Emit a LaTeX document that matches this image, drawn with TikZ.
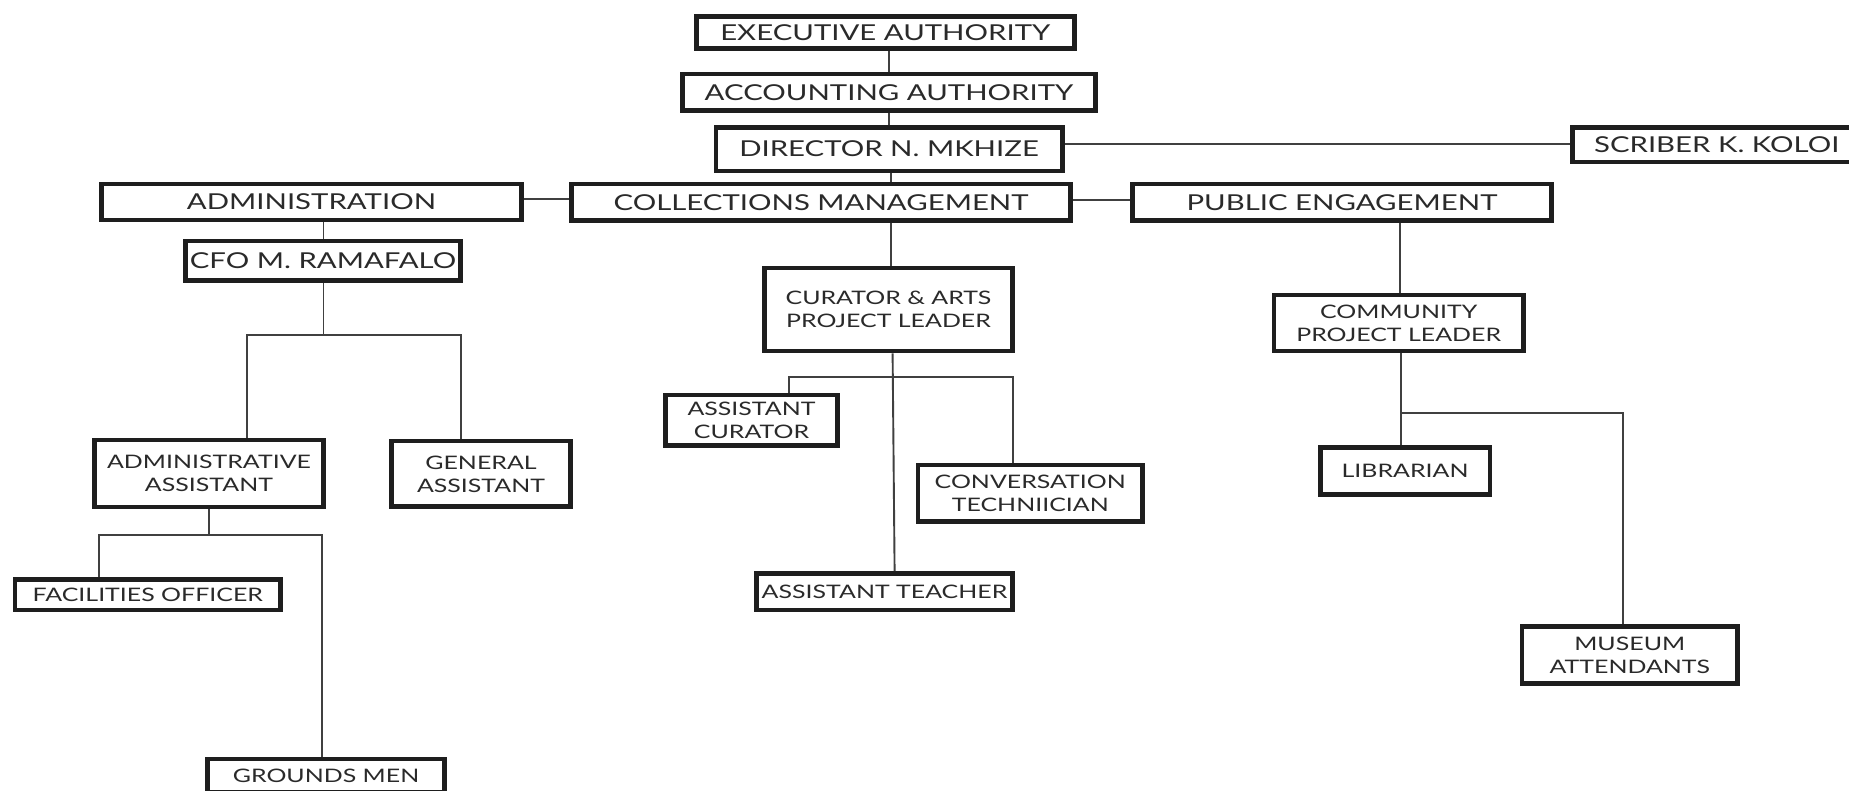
\documentclass[tikz,border=0pt]{standalone}
\usepackage{fontspec}
\setmainfont{Lato}[FakeStretch=1.34]
\definecolor{ink}{HTML}{1E1E1E}
\definecolor{wire}{HTML}{404040}
\definecolor{txt}{HTML}{2A2A2A}
\newcommand\bigtxt{\fontsize{21.9}{26}\selectfont}
\newcommand\smalltxt{\fontsize{18.6}{23}\selectfont}
% box given by its outer corners (x1,y1) and (x2,y2), y measured downward
\newcommand\orgbox[7][big]{%
  \node[orgbox,#1,minimum width={#5-#3-4.6},minimum height={#6-#4-4.6}]
    (#2) at ({(#3+#5)/2},{(#4+#6)/2}) {#7};}
\tikzset{
  orgbox/.style={draw=ink,line width=4.6pt,fill=white,inner sep=0pt,
    align=center,text=txt},
  big/.style={font=\bigtxt},
  small/.style={font=\smalltxt},
  wire/.style={draw=wire,line width=1.9pt}
}
\begin{document}
\begin{tikzpicture}[x=1pt,y=-1pt]
\fill[white] (0,0) rectangle (1849,790);
\useasboundingbox (0,0) rectangle (1849,790);

% top of the hierarchy
\orgbox{exec}{694}{14}{1076.5}{51}{EXECUTIVE AUTHORITY}
\orgbox{acct}{680}{71.7}{1098}{112.7}{ACCOUNTING AUTHORITY}
\orgbox{dir}{713.5}{125}{1064.6}{173.3}{DIRECTOR N. MKHIZE}
\orgbox{scribe}{1570.4}{125}{1863}{164.3}{SCRIBER K. KOLOI}

% departments
\orgbox{admin}{99}{181.7}{524}{222.3}{ADMINISTRATION}
\orgbox{coll}{569}{181.7}{1073}{222.7}{COLLECTIONS MANAGEMENT}
\orgbox{public}{1130}{181.7}{1554}{222.7}{PUBLIC ENGAGEMENT}

% administration
\orgbox{cfo}{183}{238.7}{463}{282.7}{CFO M. RAMAFALO}
\orgbox[small]{adasst}{92}{437.7}{326}{509.3}{ADMINISTRATIVE\\ASSISTANT}
\orgbox[small]{genasst}{389}{438.7}{573}{509}{GENERAL\\ASSISTANT}
\orgbox[small]{facil}{12.7}{577.3}{283}{612.3}{FACILITIES OFFICER}
\orgbox[small]{grounds}{205}{756.7}{447}{795}{GROUNDS MEN}

% collections
\orgbox[small]{curator}{762}{265.7}{1015}{353.3}{CURATOR \& ARTS\\PROJECT LEADER}
\orgbox[small]{asstcur}{663}{392.7}{840}{447.7}{ASSISTANT\\CURATOR}
\orgbox[small]{cons}{915.5}{462.7}{1145}{524}{CONVERSATION\\TECHNIICIAN}
\orgbox[small]{teacher}{754}{571}{1015}{612.3}{ASSISTANT TEACHER}

% public engagement
\orgbox[small]{community}{1271.6}{292.7}{1525.7}{353.3}{COMMUNITY\\PROJECT LEADER}
\orgbox[small]{librarian}{1318}{445}{1492.2}{496.7}{LIBRARIAN}
\orgbox[small]{museum}{1519.5}{624}{1740}{686}{MUSEUM\\ATTENDANTS}

% reference columns and rows for the connectors
\coordinate (xtop) at (889.4,0);
\coordinate (xdir) at (890.6,0);
\coordinate (xcoll) at (891.4,0);
\coordinate (xcfo) at (323.5,0);
\coordinate (xpub) at (1400,0);
\coordinate (ctop) at (892.6,0);
\coordinate (cbot) at (894.6,0);
\coordinate (yds) at (0,144);
\coordinate (yac) at (0,199.3);
\coordinate (ycp) at (0,200);
\coordinate (cfoJ) at (323.5,335);
\coordinate (cfoL) at (247,335);
\coordinate (cfoR) at (460.6,335);
\coordinate (aaJ) at (209,535);
\coordinate (aaL) at (99,535);
\coordinate (aaR) at (322,535);
\coordinate (curL) at (788.6,377.3);
\coordinate (curR) at (1013.4,377.3);
\coordinate (comJ) at (1400.7,413.3);
\coordinate (comR) at (1623,413.3);

% chain of command
\draw[wire] (xtop |- exec.south) -- (xtop |- acct.north);
\draw[wire] (xtop |- acct.south) -- (xtop |- dir.north);
\draw[wire] (xdir |- dir.south) -- (xdir |- coll.north);
\draw[wire] (dir.east |- yds) -- (scribe.west |- yds);
\draw[wire] (admin.east |- yac) -- (coll.west |- yac);
\draw[wire] (coll.east |- ycp) -- (public.west |- ycp);

% administration branch
\draw[wire] (xcfo |- admin.south) -- (xcfo |- cfo.north);
\draw[wire] (xcfo |- cfo.south) -- (cfoJ);
\draw[wire] (adasst.north -| cfoL) -- (cfoL) -- (cfoR) -- (genasst.north -| cfoR);
\draw[wire] (adasst.south -| aaJ) -- (aaJ);
\draw[wire] (facil.north -| aaL) -- (aaL) -- (aaR) -- (grounds.north -| aaR);

% collections branch
\draw[wire] (xcoll |- coll.south) -- (xcoll |- curator.north);
\draw[wire] (curator.south -| ctop) -- (teacher.north -| cbot);
\draw[wire] (asstcur.north -| curL) -- (curL) -- (curR) -- (cons.north -| curR);

% public engagement branch
\draw[wire] (xpub |- public.south) -- (xpub |- community.north);
\draw[wire] (community.south -| comJ) -- (librarian.north -| comJ);
\draw[wire] (comJ) -- (comR) -- (museum.north -| comR);
\end{tikzpicture}
\end{document}
